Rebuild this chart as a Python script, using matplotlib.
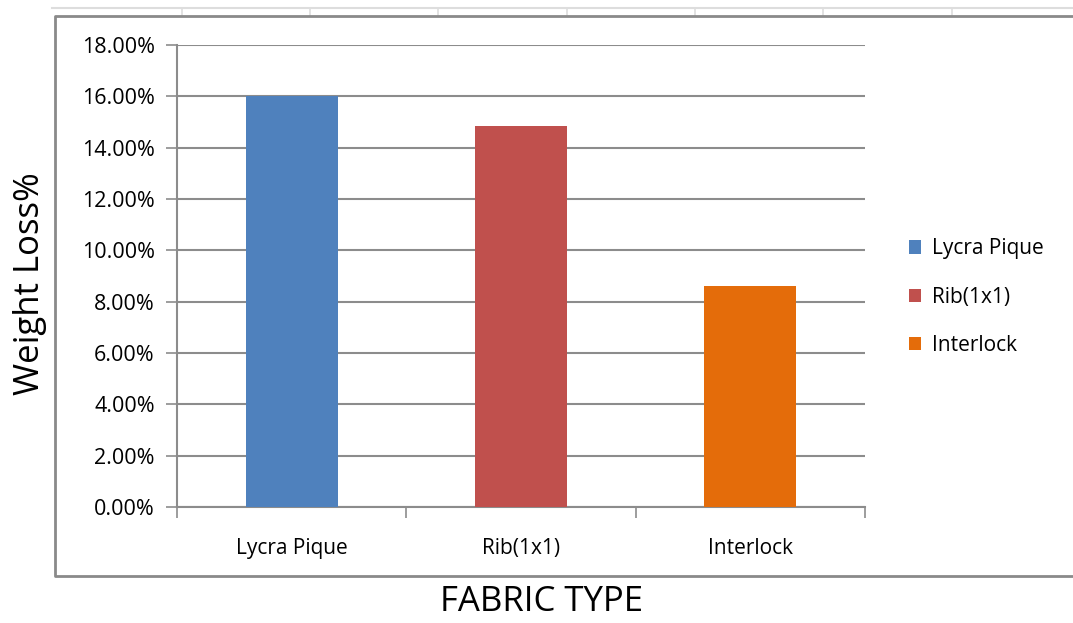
import matplotlib.pyplot as plt
from matplotlib.patches import Patch
from matplotlib.lines import Line2D
from matplotlib.ticker import PercentFormatter

plt.rcParams['font.family'] = ['Open Sans', 'DejaVu Sans']

# data
fabrics = ['Lycra Pique', 'Rib(1x1)', 'Interlock']
weight_loss = [16.0, 14.85, 8.6]
colors = ['#4F81BD', '#C0504D', '#E46C0A']
yticks = [0, 2, 4, 6, 8, 10, 12, 14, 16, 18]

W, H = 1073, 623
fig = plt.figure(figsize=(W / 100, H / 100), dpi=100)
ax = fig.add_axes([177 / W, 1 - 507 / H, (865 - 177) / W, (507 - 45) / H])

x = list(range(len(fabrics)))
ax.bar(x, weight_loss, width=0.4, color=colors, zorder=3)
ax.set_xlim(-0.5, 2.5)
ax.set_ylim(0, 18)

ax.set_yticks(yticks)
ax.yaxis.set_major_formatter(PercentFormatter(decimals=2))
ax.yaxis.grid(True, color='#8c8c8c', linewidth=1.5, zorder=0)
ax.tick_params(axis='y', length=8, width=1.2, color='#8c8c8c', labelsize=15.5, pad=8)

ax.set_xticks(x)
ax.set_xticklabels(fabrics)
ax.tick_params(axis='x', which='major', length=0, labelsize=15, pad=22)
ax.set_xticks([-0.5, 0.5, 1.5, 2.5], minor=True)
ax.tick_params(axis='x', which='minor', length=8, width=1.2, color='#8c8c8c')

for s in ['top', 'right']:
    ax.spines[s].set_visible(False)
for s in ['left', 'bottom']:
    ax.spines[s].set_color('#8c8c8c')
    ax.spines[s].set_linewidth(1.5)

# spreadsheet cell lines behind the chart
fig.add_artist(Line2D([52 / W, 1], [1 - 8 / H] * 2, color='#dddddd', lw=1.5))
for cx in [182, 310, 438, 567, 695, 823, 952]:
    fig.add_artist(Line2D([cx / W] * 2, [1 - 8 / H, 1 - 16 / H], color='#dddddd', lw=1.2))

# chart frame (right edge is off the picture)
fx0, fy0, fy1 = 55 / W, 1 - 576 / H, 1 - 16 / H
fig.add_artist(Line2D([1.01, fx0, fx0, 1.01], [fy1, fy1, fy0, fy0],
                      color='#8a8a8a', lw=2))

fig.text(30 / W, 1 - 284 / H, 'Weight Loss%', rotation=90, fontsize=25,
         ha='center', va='center')
fig.text(541 / W, 1 - 602 / H, 'FABRIC TYPE', fontsize=25,
         ha='center', va='center')

handles = [Patch(facecolor=c, edgecolor='none') for c in colors]
fig.legend(handles, fabrics, loc='center left', bbox_to_anchor=(890 / W, 1 - 297 / H),
           frameon=False, fontsize=15, handlelength=0.6, handleheight=0.6,
           handletextpad=0.5, labelspacing=1.3)

fig.savefig('out.png', dpi=100)
